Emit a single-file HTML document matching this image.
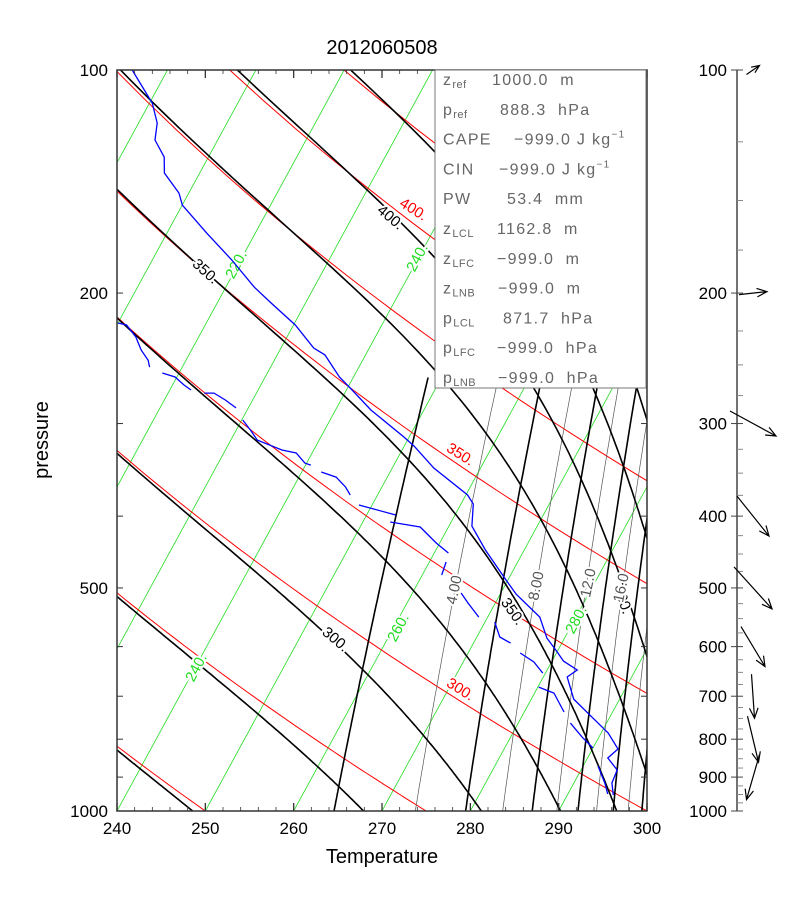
<!DOCTYPE html>
<html><head><meta charset="utf-8"><title>2012060508 sounding</title>
<style>
html,body{margin:0;padding:0;background:#fff;}
svg{display:block;font-family:"Liberation Sans",sans-serif;}
</style></head>
<body>
<svg id="chart" width="812" height="910" viewBox="0 0 812 910" xmlns="http://www.w3.org/2000/svg">
<defs><clipPath id="plotclip"><rect x="117" y="70" width="530" height="741"/></clipPath></defs>
<text x="382" y="54" font-size="20" text-anchor="middle" fill="#000">2012060508</text>
<text x="48" y="440" font-size="20" text-anchor="middle" transform="rotate(-90 48 440)" fill="#000">pressure</text>
<text x="382" y="863" font-size="20" text-anchor="middle" fill="#000">Temperature</text>
<g id="grid" clip-path="url(#plotclip)"></g>
<g id="labels"></g>
<g id="sound" clip-path="url(#plotclip)"></g>
<g id="axes"></g>
<g id="infobox"></g>
<g id="wind"></g>
</svg>
<script>
// ---- sounding data ----
const P_T = [100,110.8,117.9,124.3,131.1,137.7,146.6,152.1,166,180.5,196.3,206.3,220.9,237.2,242.4,259.6,268.6,287.6,312.8,321.7,344.4,374.6,385.2,412.6,444.4,465.6,487.9,509.6,547.4,584.3,608.4,627.6,645.3,659.5,706.3,744.6,784.8,824.8,848.2,880.4,916.7,951.5];
const T_K = [196.0,200.3,202.1,202.9,205.0,206.0,208.9,210.0,214.5,219.0,223.2,226.1,230.2,233.7,235.4,238.4,240.3,244.0,249.4,251.1,254.7,260.2,261.4,262.6,265.6,267.7,269.8,271.8,275.9,278.0,279.9,281.3,283.4,282.7,284.8,287.8,290.8,292.9,292.3,294.1,294.3,295.2];
// dewpoint: null marks a data gap
const P_TD = [219.5,220.9,229.3,238.8,246.3,251.7,null,256.4,259.6,266.1,270.3,null,272.9,272.9,278.8,285.8,null,296.7,306.1,315.8,325.7,328.8,339.2,341.3,null,348.8,354.3,365.5,374.6,null,386.4,398.6,null,407.4,413.8,434.9,448.6,null,461.3,480.3,null,507.9,524.0,547.4,null,555.9,582.4,593.4,null,612.1,629.4,651.4,null,680.4,693.2,735.2,null,760.9,794.8,822.2,null,870.0,916.7,948.6];
const TD_K = [210.0,211.1,212.9,214.3,215.7,216.3,null,218.1,219.8,221.3,222.4,null,224.1,225.2,226.9,228.6,null,230.1,231.6,233.0,236.4,238.2,239.8,240.6,null,242.2,244.2,245.9,246.9,null,248.5,253.3,null,253.1,256.8,259.6,261.6,null,261.9,262.2,null,265.5,266.9,269.0,null,271.1,272.6,274.2,null,275.9,278.0,279.7,null,280.1,282.2,284.5,null,285.9,288.1,290.0,null,291.7,293.5,294.5];
// winds (m/s)
const WIND_P = [100,200,300,400,500,600,700,800,900];
const WIND_U = [6.5,14,23,16,19,12,1.5,5.5,-6.5];
const WIND_V = [4.5,1.5,-12.5,-20,-21,-20,-22,-23,-22.5];
// axis ticks
const T_TICKS = [240,250,260,270,280,290,300];
const P_LABELS = [100,200,500,1000];
const WIND_P_LABELS = [100,200,300,400,500,600,700,800,900,1000];
// reference line families
const THETA_LIST = [150,175,200,225,250,275,300,325,350,375,400,425,450,475,500,525];
const THETAE_LIST = [200,225,250,275,300,325,350,375,400,425,450,475,500,525,550];
const ISOTHERMS = [];
for (let t=100;t<=300;t+=10) ISOTHERMS.push(t);
const MIX_THICK = [2,6,10,14,18,22];
const MIX_THIN = [4,8,12,16,20];

const NS="http://www.w3.org/2000/svg";
function yP(p){return 70+741*Math.log10(p/100);}
function xTP(T,p){return 117+8.833*(T-240)+0.545*(811-yP(p));}
function el(tag,parent){const e=document.createElementNS(NS,tag);parent.appendChild(e);return e;}
function ptsStr(a){return a.map(q=>q[0].toFixed(1)+","+q[1].toFixed(1)).join(" ");}

const grid=document.getElementById('grid');
ISOTHERMS.forEach(T=>{
  const l=el('line',grid);
  
  
  l.setAttribute('x1',xTP(T,1000));l.setAttribute('y1',yP(1000));
  l.setAttribute('x2',xTP(T,100));l.setAttribute('y2',yP(100));
  l.setAttribute('stroke','#22dd22');l.setAttribute('stroke-width','0.8');
});
THETA_LIST.forEach(th=>{
  const a=[];
  for(let p=1000;p>=100;p-=10){a.push([xTP(th*Math.pow(p/1000,0.286),p),yP(p)]);}
  const pl=el('polyline',grid);
  
  
  pl.setAttribute('points',ptsStr(a));pl.setAttribute('fill','none');
  pl.setAttribute('stroke','#ff0000');pl.setAttribute('stroke-width','1');
});
function tdFromW(w,p){const e=w*p/(622+w);const l=Math.log(e/6.112);return 243.5*l/(17.67-l)+273.15;}
function mixLine(w,thick){
  const a=[];
  for(let p=1000;p>=260;p-=10){a.push([xTP(tdFromW(w,p),p),yP(p)]);}
  const pl=el('polyline',grid);
  
  
  pl.setAttribute('points',ptsStr(a));pl.setAttribute('fill','none');
  pl.setAttribute('stroke',thick?'#000':'#555');pl.setAttribute('stroke-width',thick?'1.6':'0.7');
}
MIX_THIN.forEach(w=>mixLine(w,false));
MIX_THICK.forEach(w=>mixLine(w,true));
function es(T){return 6.112*Math.exp(17.67*(T-273.15)/(T-29.65));}
function rsat(T,p){const e=Math.min(es(T),p*0.5);return 0.622*e/(p-e);}
function thetaE(T){const r=1000*rsat(T,1000);return T*Math.exp((3.376/T-0.00254)*r*(1+0.00081*r));}
function dTdp(T,p){const r=rsat(T,p);const Rd=287,cp=1005,L=2.5e6;return (Rd*T+L*r)/(p*(cp+L*L*r*0.622/(Rd*T*T)));}
THETAE_LIST.forEach(te=>{
  let lo=150,hi=340;
  for(let i=0;i<60;i++){const m=(lo+hi)/2; if(thetaE(m)<te) lo=m; else hi=m;}
  let T=(lo+hi)/2;const a=[[xTP(T,1000),yP(1000)]];
  const dp=-5;
  for(let p=1000;p>100;p+=dp){
    const k1=dTdp(T,p);const k2=dTdp(T+k1*dp,p+dp);
    T=T+0.5*(k1+k2)*dp;a.push([xTP(T,p+dp),yP(p+dp)]);
  }
  const pl=el('polyline',grid);
  
  
  pl.setAttribute('points',ptsStr(a));pl.setAttribute('fill','none');
  pl.setAttribute('stroke','#000');pl.setAttribute('stroke-width','1.6');
});

const labels=document.getElementById('labels');
function lab(txt,x,y,rot,col,name){
  const t=el('text',labels);
  
  
  t.setAttribute('x',x);t.setAttribute('y',y);t.setAttribute('font-size','15');
  t.setAttribute('text-anchor','middle');t.setAttribute('dominant-baseline','middle');
  t.setAttribute('fill',col);t.setAttribute('stroke','#fff');t.setAttribute('stroke-width','4');
  t.setAttribute('paint-order','stroke');
  t.setAttribute('transform','rotate('+rot+' '+x+' '+y+')');
  t.textContent=txt;
}
lab('350.',205,272,42,'#000','moist-label-350a');
lab('400.',390,218,40,'#000','moist-label-400a');
lab('300.',335,640,40,'#000','moist-label-300');
lab('350.',512,612,55,'#000','moist-label-350b');
lab('400.',622,600,70,'#000','moist-label-400b');
lab('400.',413,210,32,'#ff0000','dry-label-400');
lab('350.',460,455,32,'#ff0000','dry-label-350');
lab('300.',460,690,32,'#ff0000','dry-label-300');
lab('220.',237,265,-62,'#22dd22','isotherm-label-220');
lab('240.',418,258,-62,'#22dd22','isotherm-label-240a');
lab('240.',197,668,-62,'#22dd22','isotherm-label-240b');
lab('260.',399,628,-62,'#22dd22','isotherm-label-260');
lab('280.',577,620,-62,'#22dd22','isotherm-label-280');
lab('4.00',455,590,-78,'#555','mixing-label-4');
lab('8.00',537,586,-78,'#555','mixing-label-8');
lab('12.0',589,583,-78,'#555','mixing-label-12');
lab('16.0',622,588,-78,'#555','mixing-label-16');

const sound=document.getElementById('sound');
const tl=el('polyline',sound);


tl.setAttribute('points',ptsStr(P_T.map((p,i)=>[xTP(T_K[i],p),yP(p)])));
tl.setAttribute('fill','none');tl.setAttribute('stroke','#0000ff');tl.setAttribute('stroke-width','1.3');
let seg=[],segN=0;
function flush(){
  if(seg.length>1){
    const pl=el('polyline',sound);
    
    
    pl.setAttribute('points',ptsStr(seg));pl.setAttribute('fill','none');
    pl.setAttribute('stroke','#0000ff');pl.setAttribute('stroke-width','1.3');
    segN++;
  }
  seg=[];
}
P_TD.forEach((p,i)=>{ if(p===null||TD_K[i]===null){flush();} else seg.push([xTP(TD_K[i],p),yP(p)]); });
flush();

const axes=document.getElementById('axes');
const fr=el('rect',axes);


fr.setAttribute('x','117');fr.setAttribute('y','70');fr.setAttribute('width','530');fr.setAttribute('height','741');
fr.setAttribute('fill','none');fr.setAttribute('stroke','#333');fr.setAttribute('stroke-width','1.5');
function xT(T){return 117+(T-240)*530/60;}
for(let T=240;T<=300;T+=2){
  const major=(T%10===0);const len=major?8:4;const x=xT(T);
  [[811,-1],[70,1]].forEach(([y0,d])=>{
    const l=el('line',axes);
    
    
    l.setAttribute('x1',x);l.setAttribute('x2',x);l.setAttribute('y1',y0);l.setAttribute('y2',y0+d*len);
    l.setAttribute('stroke','#333');l.setAttribute('stroke-width',major?'1.3':'0.8');
  });
}
T_TICKS.forEach(T=>{
  const t=el('text',axes);
  
  
  t.setAttribute('x',xT(T));t.setAttribute('y','834');t.setAttribute('font-size','17');t.setAttribute('text-anchor','middle');
  t.textContent=T;
});
for(let p=100;p<=1000;p+=100){
  const y=yP(p);
  [[117,1],[647,-1]].forEach(([x0,d])=>{
    const l=el('line',axes);
    
    
    l.setAttribute('x1',x0);l.setAttribute('x2',x0+d*6);l.setAttribute('y1',y);l.setAttribute('y2',y);
    l.setAttribute('stroke','#333');l.setAttribute('stroke-width','1');
  });
}
P_LABELS.forEach(p=>{
  const t=el('text',axes);
  
  
  t.setAttribute('x','108');t.setAttribute('y',yP(p)+6);t.setAttribute('font-size','17');t.setAttribute('text-anchor','end');
  t.textContent=p;
});

const ib=document.getElementById('infobox');
const br=el('rect',ib);


br.setAttribute('x','435');br.setAttribute('y','70');br.setAttribute('width','211');br.setAttribute('height','318');
br.setAttribute('fill','#fff');br.setAttribute('stroke','#777');br.setAttribute('stroke-width','1');
const ROWS=[['z','ref','1000.0  m',492],['p','ref','888.3  hPa',500],['CAPE','','\u2212999.0 J kg',514],['CIN','','\u2212999.0 J kg',499],['PW','','53.4  mm',507],['z','LCL','1162.8  m',497],['z','LFC','\u2212999.0  m',497],['z','LNB','\u2212999.0  m',498],['p','LCL','871.7  hPa',503],['p','LFC','\u2212999.0  hPa',497],['p','LNB','\u2212999.0  hPa',498]];
ROWS.forEach((r,i)=>{
  const y=85+i*29.8;
  const t=el('text',ib);
  
  
  t.setAttribute('x','443');t.setAttribute('y',y);t.setAttribute('font-size','16');t.setAttribute('fill','#666');
  t.setAttribute('letter-spacing','1.3');
  t.textContent=r[0];
  if(r[1]){const s=el('tspan',t);s.setAttribute('font-size','11');s.setAttribute('dy','3');s.setAttribute('letter-spacing','0.5');s.textContent=r[1];}
  const v=el('text',ib);
  
  
  v.setAttribute('x',r[3]);v.setAttribute('y',y);v.setAttribute('font-size','16');v.setAttribute('fill','#666');
  v.setAttribute('letter-spacing','1.3');
  v.setAttribute('xml:space','preserve');v.setAttribute('style','white-space:pre');
  v.textContent=r[2];
  if(i===2||i===3){const s=el('tspan',v);s.setAttribute('font-size','10');s.setAttribute('dy','-7');s.textContent='\u22121';}
});

const wd=document.getElementById('wind');
const ax=el('line',wd);


ax.setAttribute('x1','737');ax.setAttribute('x2','737');ax.setAttribute('y1','70');ax.setAttribute('y2','811');
ax.setAttribute('stroke','#444');ax.setAttribute('stroke-width','1.5');
for(let p=100;p<=1000;p+=25){
  const major=(p%100===0);const y=yP(p);
  const l=el('line',wd);
  
  
  l.setAttribute('x1',major?731:737);l.setAttribute('x2',743);l.setAttribute('y1',y);l.setAttribute('y2',y);
  l.setAttribute('stroke',major?'#444':'#888');l.setAttribute('stroke-width','1');
}
WIND_P_LABELS.forEach(p=>{
  const t=el('text',wd);
  
  
  t.setAttribute('x','727');t.setAttribute('y',yP(p)+6);t.setAttribute('font-size','17');t.setAttribute('text-anchor','end');
  t.textContent=p;
});
const WS=2;
WIND_P.forEach((p,i)=>{
  const cx=753,cy=yP(p);const dx=WIND_U[i]*WS,dy=-WIND_V[i]*WS;
  const x1=cx-dx/2,y1=cy-dy/2,x2=cx+dx/2,y2=cy+dy/2;
  const ang=Math.atan2(dy,dx);const h=Math.min(11,0.35*Math.hypot(dx,dy)+3);
  const g=el('path',wd);
  
  
  const a1=ang+Math.PI-0.4,a2=ang+Math.PI+0.4;
  g.setAttribute('d','M'+x1.toFixed(1)+' '+y1.toFixed(1)+'L'+x2.toFixed(1)+' '+y2.toFixed(1)+
    'M'+(x2+h*Math.cos(a1)).toFixed(1)+' '+(y2+h*Math.sin(a1)).toFixed(1)+'L'+x2.toFixed(1)+' '+y2.toFixed(1)+
    'L'+(x2+h*Math.cos(a2)).toFixed(1)+' '+(y2+h*Math.sin(a2)).toFixed(1));
  g.setAttribute('fill','none');g.setAttribute('stroke','#000');g.setAttribute('stroke-width','1.2');
});
</script>
</body></html>
